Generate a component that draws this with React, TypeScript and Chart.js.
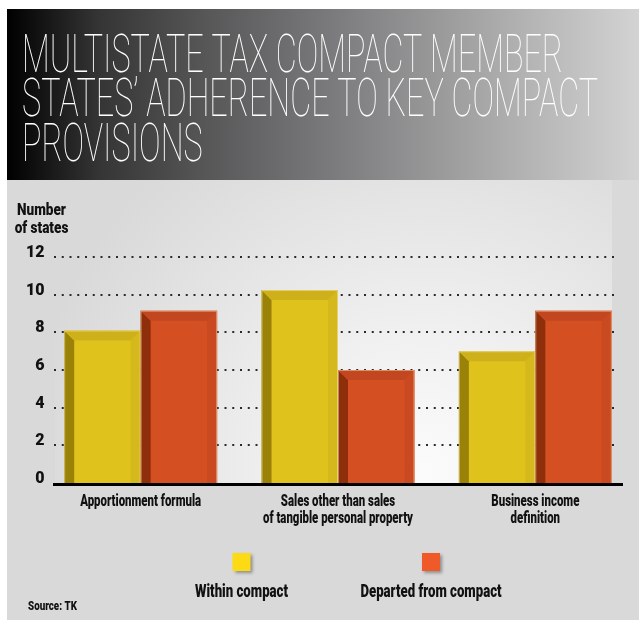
import React, { useEffect, useRef } from "react";
import { Chart, registerables } from "chart.js";

Chart.register(...registerables);

// ---------- data ----------
const titleLines = [
  "MULTISTATE TAX COMPACT MEMBER",
  "STATES’ ADHERENCE TO KEY COMPACT",
  "PROVISIONS",
];
const yAxisTitle = ["Number", "of states"];
const categories = [
  ["Apportionment formula"],
  ["Sales other than sales", "of tangible personal property"],
  ["Business income", "definition"],
];
const seriesNames = ["Within compact", "Departed from compact"];
const withinCompact = [8.15, 10.3, 7.05];
const departedFromCompact = [9.2, 6.05, 9.2];
const yTickValues = [0, 2, 4, 6, 8, 10, 12];
const sourceText = "Source: TK";

// ---------- styles ----------
const W = 639;
const H = 620;
const faceColors = ["#e0c21c", "#d44f22"];
const leftColors = ["#9a8209", "#8f2e0b"];
const topColors = ["#ceb11a", "#c2461f"];
const rightColors = ["#d5b81c", "#c94a20"];
const legendColors = ["#fddb14", "#f05a28"];
const BEVEL = 10;

function fitScale(ctx: CanvasRenderingContext2D, text: string, font: string, target: number) {
  ctx.save();
  ctx.font = font;
  const w = ctx.measureText(text).width;
  ctx.restore();
  return w > 0 ? target / w : 1;
}

function drawScaled(
  ctx: CanvasRenderingContext2D,
  text: string,
  x: number,
  y: number,
  font: string,
  sx: number,
  align: CanvasTextAlign,
  color: string
) {
  ctx.save();
  ctx.font = font;
  ctx.fillStyle = color;
  ctx.textAlign = align;
  ctx.textBaseline = "alphabetic";
  ctx.translate(x, y);
  ctx.scale(sx, 1);
  ctx.fillText(text, 0, 0);
  ctx.restore();
}

const decorPlugin = {
  id: "decor",
  beforeDraw(chart: any) {
    const ctx: CanvasRenderingContext2D = chart.ctx;
    const yScale = chart.scales.y;
    const axisY = yScale.getPixelForValue(0);
    ctx.save();
    ctx.fillStyle = "#ffffff";
    ctx.fillRect(0, 0, W, H);
    ctx.fillStyle = "#d9d9d9";
    ctx.fillRect(7, 180, W - 7, H - 180);
    const rg = ctx.createRadialGradient(425, 470, 0, 425, 470, 400);
    rg.addColorStop(0, "#fbfbfb");
    rg.addColorStop(0.35, "#f0f0f0");
    rg.addColorStop(1, "#d9d9d9");
    ctx.fillStyle = rg;
    ctx.fillRect(55, 180, 612 - 55, axisY - 180);
    const lg = ctx.createLinearGradient(7, 0, W, 0);
    lg.addColorStop(0, "#000000");
    lg.addColorStop(0.147, "#353535");
    lg.addColorStop(0.305, "#555556");
    lg.addColorStop(0.5, "#78787a");
    lg.addColorStop(0.685, "#9a9a9b");
    lg.addColorStop(0.843, "#b7b7b7");
    lg.addColorStop(1, "#d3d3d3");
    ctx.fillStyle = lg;
    ctx.fillRect(7, 9, W - 7, 171);
    ctx.restore();
  },
  beforeDatasetsDraw(chart: any) {
    const ctx: CanvasRenderingContext2D = chart.ctx;
    const yScale = chart.scales.y;
    ctx.save();
    ctx.strokeStyle = "#2a2a2a";
    ctx.lineWidth = 2;
    ctx.setLineDash([2, 5.75]);
    yTickValues.forEach((v) => {
      if (v === 0) return;
      const y = Math.round(yScale.getPixelForValue(v)) - 1;
      ctx.beginPath();
      ctx.moveTo(54, y);
      ctx.lineTo(619, y);
      ctx.stroke();
    });
    ctx.restore();
  },
  afterDatasetsDraw(chart: any) {
    const ctx: CanvasRenderingContext2D = chart.ctx;
    chart.data.datasets.forEach((ds: any, di: number) => {
      const meta = chart.getDatasetMeta(di);
      meta.data.forEach((el: any) => {
        const { x, y, base, width } = el.getProps(["x", "y", "base", "width"], true);
        const l = x - width / 2;
        const r = x + width / 2;
        const t = y;
        const b = base;
        const d = BEVEL;
        ctx.save();
        ctx.fillStyle = leftColors[di];
        ctx.beginPath();
        ctx.moveTo(l, t);
        ctx.lineTo(l + d, t + d);
        ctx.lineTo(l + d, b);
        ctx.lineTo(l, b);
        ctx.closePath();
        ctx.fill();
        ctx.fillStyle = rightColors[di];
        ctx.beginPath();
        ctx.moveTo(r, t);
        ctx.lineTo(r - d, t + d);
        ctx.lineTo(r - d, b);
        ctx.lineTo(r, b);
        ctx.closePath();
        ctx.fill();
        ctx.fillStyle = topColors[di];
        ctx.beginPath();
        ctx.moveTo(l, t);
        ctx.lineTo(r, t);
        ctx.lineTo(r - d, t + d);
        ctx.lineTo(l + d, t + d);
        ctx.closePath();
        ctx.fill();
        ctx.strokeStyle = "rgba(255,240,200,0.45)";
        ctx.lineWidth = 1;
        ctx.beginPath();
        ctx.moveTo(l + 0.5, b);
        ctx.lineTo(l + 0.5, t + 0.5);
        ctx.lineTo(r - 0.5, t + 0.5);
        ctx.lineTo(r - 0.5, b);
        ctx.stroke();
        ctx.restore();
      });
    });
    const yScale = chart.scales.y;
    const axisY = yScale.getPixelForValue(0);
    ctx.save();
    ctx.fillStyle = "#000";
    ctx.fillRect(53, axisY - 1, 623 - 53, 3);
    ctx.restore();
  },
  afterDraw(chart: any) {
    const ctx: CanvasRenderingContext2D = chart.ctx;
    const xScale = chart.scales.x;
    const tFont = "100 54px Roboto";
    const tScale = fitScale(ctx, titleLines[0], tFont, 541);
    const tBase = [72, 116, 161];
    titleLines.forEach((line, i) => drawScaled(ctx, line, 22, tBase[i], tFont, tScale, "left", "#ffffff"));
    const yFont = "900 16px Roboto";
    const yScaleX = fitScale(ctx, yAxisTitle[0], yFont, 49);
    yAxisTitle.forEach((line, i) => drawScaled(ctx, line, 41.5, 215 + i * 18, yFont, yScaleX, "center", "#111111"));
    const cFont = "900 17px Roboto";
    const cScale = fitScale(ctx, categories[0][0], cFont, 121);
    categories.forEach((lines, ci) => {
      const cx = xScale.getPixelForValue(ci);
      lines.forEach((line, li) => drawScaled(ctx, line, cx, 506 + li * 17, cFont, cScale, "center", "#111111"));
    });
    const lFont = "900 19px Roboto";
    const lScale = fitScale(ctx, seriesNames[0], lFont, 93);
    const legendCenters = [241.5, 431];
    seriesNames.forEach((name, i) => {
      const cx = legendCenters[i];
      ctx.save();
      ctx.shadowColor = "rgba(0,0,0,0.35)";
      ctx.shadowOffsetX = 2;
      ctx.shadowOffsetY = 2;
      ctx.shadowBlur = 3;
      ctx.fillStyle = legendColors[i];
      ctx.fillRect(cx - 9, 553, 18, 18);
      ctx.restore();
      drawScaled(ctx, name, cx, 597, lFont, lScale, "center", "#111111");
    });
    const sFont = "900 13px Roboto";
    const sScale = fitScale(ctx, sourceText, sFont, 49);
    drawScaled(ctx, sourceText, 28, 610, sFont, sScale, "left", "#111111");
  },
};

export default function App() {
  const ref = useRef<HTMLCanvasElement | null>(null);
  useEffect(() => {
    document.body.style.margin = "0";
    if (!ref.current) return;
    const chart = new Chart(ref.current, {
      type: "bar",
      data: {
        labels: categories.map((c) => c.join(" ")),
        datasets: [
          {
            label: seriesNames[0],
            data: withinCompact,
            backgroundColor: faceColors[0],
            borderWidth: 0,
            categoryPercentage: 0.775,
            barPercentage: 1,
          },
          {
            label: seriesNames[1],
            data: departedFromCompact,
            backgroundColor: faceColors[1],
            borderWidth: 0,
            categoryPercentage: 0.775,
            barPercentage: 1,
          },
        ],
      },
      options: {
        responsive: false,
        animation: false,
        devicePixelRatio: 1,
        layout: { padding: { left: 8, right: 5, top: 258, bottom: 136 } },
        plugins: { legend: { display: false }, tooltip: { enabled: false } },
        scales: {
          x: { display: false },
          y: {
            min: 0,
            max: 12,
            afterFit(scale: any) {
              scale.width = 34;
            },
            afterBuildTicks(scale: any) {
              scale.ticks = yTickValues.map((v) => ({ value: v }));
            },
            grid: { display: false, drawTicks: false, tickLength: 0 },
            border: { display: false },
            ticks: {
              mirror: true,
              crossAlign: "far",
              padding: -16,
              labelOffset: -5,
              color: "#111111",
              font: { family: "Roboto", weight: "900", size: 16 },
            },
          },
        },
      },
      plugins: [decorPlugin],
    });
    return () => chart.destroy();
  }, []);
  return (
    <div style={{ position: "absolute", left: 0, top: 0, width: W, height: H }}>
      <canvas ref={ref} width={W} height={H} style={{ display: "block" }} />
    </div>
  );
}
